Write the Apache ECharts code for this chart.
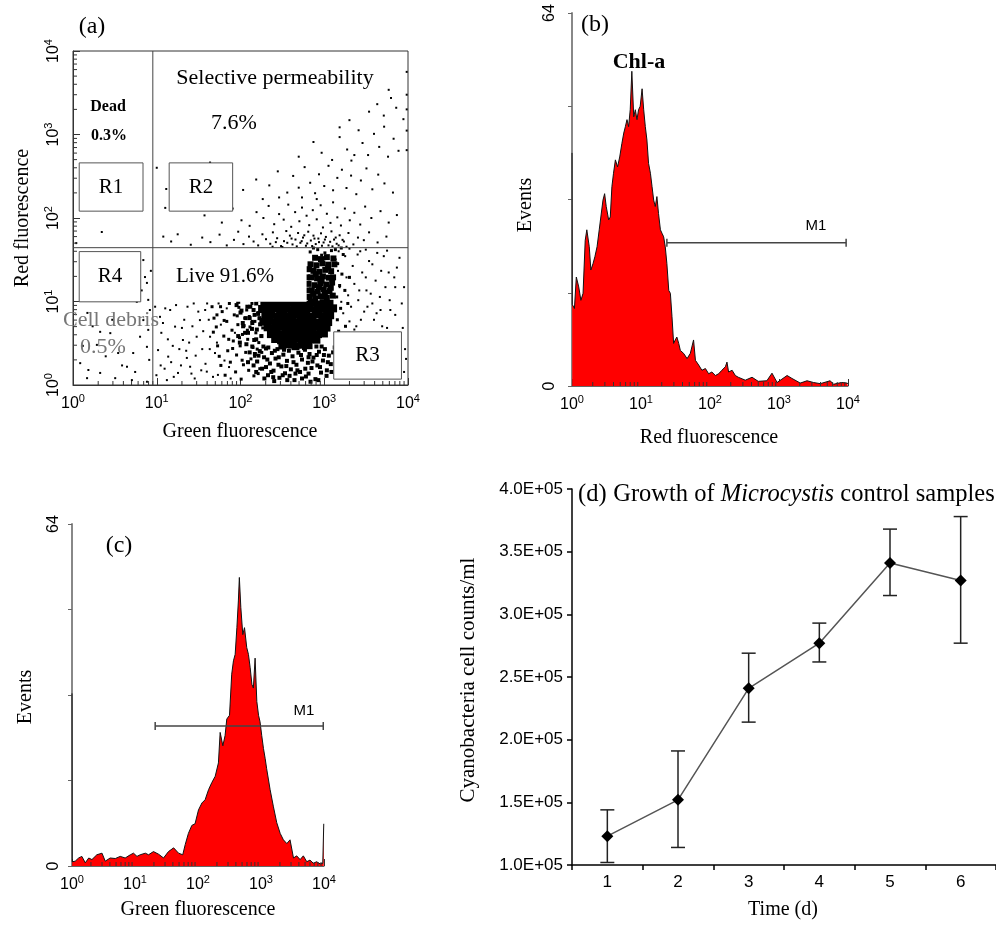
<!DOCTYPE html>
<html><head><meta charset="utf-8">
<script src="https://cdn.jsdelivr.net/npm/echarts@6/dist/echarts.min.js"></script>
<style>html,body{margin:0;padding:0;background:#fff}#c{width:996px;height:926px}</style>
</head><body><div id="c"></div>
<script>
// ---------- axis ticks (log-amplified channels, 256 channels per decade) ----------
const decadeTicks = [0, 256, 512, 768, 1024];
const decadeExp = ['0', '1', '2', '3', '4'];
const minorOffsets = [77, 122, 154, 179, 199, 216, 231, 244];
const eventTicks = [0, 64];

// ---------- panel (a): dot plot, green (x) vs red (y) fluorescence channels ----------
const aSparse = [
[360,430],[395,452],[420,438],[448,461],[470,428],[492,445],[505,470],[521,432],[538,455],[552,440],[566,428],[579,462],[590,447],[603,433],[611,468],[624,450],[636,426],[645,441],[652,472],[663,458],[671,431],[680,446],[688,466],[695,436],[703,452],[712,427],[719,470],[727,443],[735,458],[742,432],[750,449],[758,465],[766,437],[773,454],[781,428],[790,471],[798,446],[806,433],[815,459],[828,440],[842,466],[857,431],[871,452],[889,444],[905,468],[931,437],[958,455],[320,462],[300,440],[276,455],
[640,423],[655,436],[668,449],[684,425],[699,441],[707,459],[716,434],[731,426],[738,449],[752,438],[761,427],[770,446],[786,439],[793,425],[803,452],[812,428],[824,445],[836,424],[620,438],[610,424],
[402,520],[455,498],[488,541],[515,505],[540,488],[561,530],[582,512],[598,549],[615,493],[630,524],[644,507],[658,553],[667,485],[679,530],[692,502],[700,544],[714,519],[722,490],[733,536],[745,508],[757,551],[764,483],[776,525],[787,497],[795,560],[808,514],[819,489],[831,541],[846,505],[860,528],[878,492],[893,547],[912,512],[940,533],[965,498],[990,521],[630,575],
[520,598],[560,630],[600,612],[626,655],[655,590],[673,641],[690,605],[708,668],[725,620],[740,588],[752,646],[768,610],[781,672],[795,597],[808,635],[822,660],[836,604],[850,642],[866,585],[880,627],[897,664],[915,600],[933,645],[952,618],[978,590],[700,575],[745,570],[580,570],
[690,700],[735,745],[760,712],[792,690],[815,760],[838,722],[851,688],[873,781],[885,742],[902,705],[920,770],[936,730],[951,792],[963,700],[980,755],[995,718],[815,790],[860,705],
[845,812],[905,838],[930,861],[950,826],[972,880],[988,850],[1010,815],[965,905],
[1020,890],[1020,845],[1020,780],[1020,960],[1020,720],
[256,666],[285,601],[282,543],[419,682],[88,469],[10,435],
[215,383],[220,331],[226,313],[195,255],[230,261],[215,199],[230,169],[205,148],[226,117],[233,77],[184,98],[165,56],[129,21],[83,37],[47,46],[22,67],[73,123],[114,159],[44,221],[83,163],[138,98],[180,15],[226,10],[43,21],[150,60],[100,88],[60,180],[235,230],[238,350],[210,290],[190,40],[120,200],[30,120],
[251,240],[266,209],[297,230],[312,179],[336,138],[260,107],[291,87],[348,83],[388,199],[404,230],[378,148],[358,56],[321,37],[287,15],[419,148],[434,98],[409,41],[443,31],[270,160],[305,120],[330,60],[365,180],[395,110],[410,250],[280,50],[350,240],[372,20],[255,30],
[275,190],[290,140],[300,70],[315,245],[325,110],[340,200],[355,130],[362,35],[375,90],[383,225],[398,165],[405,65],[415,200],[428,25],[440,130],[452,185],[463,75],[470,235],[482,20],[495,160],[268,60],[282,235],[308,25],[333,175],[346,105],[369,250],[392,45],[418,110],[445,250],[477,55],
[803,385],[810,350],[815,300],[820,255],[826,220],[832,395],[836,330],[841,275],[845,195],[850,240],[855,365],[860,310],[866,180],[872,260],[878,410],[884,345],[890,225],[897,290],[905,380],[915,250],[925,320],[938,270],[950,395],[965,345],[985,300],[812,410],[845,418],[870,400],[895,415],[930,405],[960,412],[1005,250],[990,360],[920,200],[945,180],[970,230],
[860,170],[880,200],[895,330],[910,280],[928,220],[942,350],[955,300],[968,260],[982,330],[998,390],[1008,175],[1012,300],[875,290],[900,240],[915,370],[940,230],[960,175],[985,215],[1012,40],[1015,110],[1018,80]
];
const aMedium = [
[425,240],[431,205],[438,178],[442,120],[447,88],[452,60],[456,225],[461,150],[465,30],[470,195],[473,105],[478,250],[481,70],[486,168],[490,135],[493,215],[497,40],[500,92],[504,185],[507,238],[511,120],[514,18],[518,155],[521,62],[525,205],[528,100],[531,230],[534,140],[537,45],[541,178],[544,80],[547,250],[550,115],[553,28],[556,195],[559,160],[562,72],[565,222],[568,130],[571,50],[574,240],[577,100],[580,175],[440,215],[462,198],[488,112],[509,145],[523,182],[539,210],[555,88],[566,35],[575,150],[429,162],[451,240],[476,140],[502,212],[517,76],[533,168],[548,195],[563,110],
[805,130],[812,165],[808,200],[818,235],[806,270],[815,305],[822,340],[809,372],[826,400],[833,180],[840,250],[831,290],[845,330],[802,415],[820,420],[838,130],
[725,408],[748,415],[770,405],[790,412],[735,420],[760,398]
];
const aLower = [
[548,118],[556,95],[563,72],[571,104],[578,50],[584,85],[590,112],[596,30],[602,66],[608,98],[613,44],[619,81],[625,110],[631,22],[637,57],[643,93],[648,36],[654,74],[660,105],[666,48],[671,88],[677,15],[683,62],[689,99],[694,40],[700,78],[706,113],[712,26],[718,68],[723,95],[729,52],[735,84],[741,18],[747,60],[752,102],[758,38],[764,75],[770,110],[776,45],[782,90],[788,64],[795,100],[560,40],[585,20],[615,12],[645,108],[680,35],[710,50],[745,92],[775,28],[597,115],[628,62],[662,28],[693,118],[726,10],[760,118],
[552,60],[567,90],[582,118],[594,78],[606,40],[617,105],[629,85],[641,30],[652,58],[663,118],[674,70],[686,45],[697,92],[709,108],[720,35],[732,72],[744,118],[755,55],[767,92],[779,70],[790,40],[800,115],[540,100],[535,70],[612,24],[700,20],[750,15],[655,15],[590,55],[720,85],
[505,255],[512,222],[519,190],[526,160],[533,240],[540,205],[547,172],[554,138],[560,250],[566,218],[572,186],[576,150],[510,130],[530,125],[552,230],[568,262],
[500,245],[515,228],[528,205],[542,240],[555,215],[520,180],[535,160],[548,190],[562,170],[505,150],[570,205],[560,140]
];
const aColumn = [
[722,270],[740,266],[758,272],[776,268],[794,274],[730,290],[748,286],[766,293],[784,288],[720,310],[738,306],[756,312],[774,308],[792,314],[728,330],[746,327],[764,333],[782,329],[735,350],[753,347],[771,353],[789,349],[726,370],[744,367],[762,373],[780,369],[740,390],[758,386],[776,392],[796,388],
[718,290],[734,280],[752,300],[770,282],[788,298],[715,330],[760,320],[795,330],[742,340],[780,360],[799,370],[722,355]
];
const aCore = [
[585,250],[603,247],[621,251],[640,246],[658,252],[676,248],[694,250],[712,246],[730,252],[748,247],[766,251],[784,249],
[578,233],[596,229],[614,235],[633,230],[651,234],[669,228],[687,233],[705,231],[723,236],[741,229],[759,234],[777,230],[795,235],
[588,212],[606,216],[624,210],[642,215],[660,211],[678,217],[696,212],[714,214],[732,209],[750,216],[768,211],[786,214],
[582,194],[600,197],[618,192],[636,198],[654,193],[672,196],[690,191],[708,197],[726,194],[744,190],[762,196],[780,193],
[595,177],[613,173],[631,179],[649,174],[667,178],[685,172],[703,177],[721,175],[739,179],[757,173],[775,176],
[605,156],[623,160],[641,155],[659,161],[677,157],[695,159],[713,154],[731,160],[749,156],[767,158],
[618,141],[636,137],[654,143],[672,138],[690,142],[708,136],[726,141],[744,139],
[640,121],[660,125],[680,119],[700,124],[720,122]
];
// gate regions of panel (a), in channels
const regionNames = ['R1', 'R2', 'R3', 'R4'];
const regionX = [[19, 214], [294, 488], [797, 1004], [19, 207]];
const regionY = [[533, 681], [533, 681], [18, 163], [255, 409]];
const liveX = [251, 714];
const liveY = [255, 420];
const quadX = 244;
const quadY = 421;

// ---------- panel (b): red fluorescence histogram ----------
const bChannel = [0,1,9,16,25,33,41,49,55,64,70,78,85,93,101,107,115,121,127,136,142,148,154,161,169,177,185,192,198,204,210,216,222,229,235,241,247,253,260,266,272,278,284,291,297,303,309,315,321,328,334,340,346,352,359,365,371,377,383,389,396,402,414,427,439,451,458,470,482,495,507,519,532,544,556,569,575,581,594,606,617,643,668,691,723,742,761,798,816,847,872,896,921,958,970,1000,1020,1024];
const bEvents  = [40,14,13.3,18.7,17,14.7,15.9,25,26.8,23.9,19.9,21,22.2,23.9,26.8,29,31.9,33,30.8,28.5,29,34.2,36.5,38.8,37.6,39.3,41.6,43.4,44.5,45.7,44.5,47.4,54,46.2,47.4,45.7,47.4,48,51,47.4,44.5,42.2,38.2,36.5,34.2,31.9,30.8,32.5,29.6,26.8,26.2,25.6,23.9,21,16.4,15.9,11.9,7.3,7.9,8.4,7.3,6.1,5.6,4.7,5.6,7.9,4.4,3.6,2.7,3.0,2.1,2.4,1.8,2.1,2.7,3.3,4.1,2.4,2.7,1.8,1.5,1.0,1.5,0.8,0.9,2.2,0.6,1.8,1.3,0.5,0.9,0.6,0.4,0.9,0.3,0.6,0.5,0.4];
const bGate = [352, 1017, 24.6];

// ---------- panel (c): green fluorescence histogram ----------
const cChannel = [0,1,13,27,40,54,68,81,101,122,135,155,176,196,216,237,250,264,277,298,311,331,352,372,392,413,433,450,460,473,487,500,514,528,541,555,568,582,595,602,613,622,629,640,649,656,663,670,676,680,686,694,701,710,717,724,731,737,744,751,758,764,771,778,785,791,805,818,832,846,859,873,886,900,913,927,940,954,967,981,994,1008,1019,1023];
const cEvents  = [32.3,0.8,0.9,1.5,1.8,0.6,1.5,1.2,2.1,2.4,0.9,1.5,1.4,1.8,1.5,2.1,2.4,1.8,2.1,2.4,2.1,2.7,2.2,1.5,2.7,3.4,2.4,2.1,4.0,6.1,7.6,7.9,10.5,11.8,12.4,14.3,15.6,16.8,19.3,25,22.5,24.4,27.5,28.2,35.9,38.4,39.6,44.6,49.6,54,48.4,43.3,44.6,40.9,39.6,37.1,34,33.3,38.9,30.8,28.2,27,24.4,22,20.1,18.2,14.3,11.2,8.1,6.1,4.9,4.2,4.9,1.5,1.9,1.2,1.9,0.8,1.1,0.5,0.8,0.4,0.5,7.9];
const cGate = [338, 1021, 26.2];

// ---------- panel (d): growth of Microcystis control samples ----------
const days = ['1', '2', '3', '4', '5', '6'];
const dMean = [1.23e5, 1.52e5, 2.41e5, 2.77e5, 3.41e5, 3.27e5];
const dLow  = [1.02e5, 1.14e5, 2.14e5, 2.62e5, 3.15e5, 2.77e5];
const dHigh = [1.44e5, 1.91e5, 2.69e5, 2.93e5, 3.68e5, 3.78e5];

// ---------- build ----------
const SERIF = '"Liberation Serif", "Times New Roman", serif';
const SANS = '"Liberation Sans", Arial, sans-serif';
const minorCh = [];
for (let d = 0; d < 4; d++) minorOffsets.forEach(o => minorCh.push(decadeTicks[d] + o));

const zip = (a, b) => a.map((v, i) => [v, b[i]]);
const powRich = {
  b: { fontFamily: SANS, fontSize: 16, color: '#000', lineHeight: 22 },
  s: { fontFamily: SANS, fontSize: 11, color: '#000', lineHeight: 22, verticalAlign: 'top' }
};
const powFmt = v => { const i = decadeTicks.indexOf(v); return i < 0 ? '' : '{b|10}{s|' + decadeExp[i] + '}'; };

function logAxis(grid, opts) {
  return Object.assign({
    type: 'value', gridIndex: grid, min: 0, max: 1024, interval: 256,
    axisLine: { show: true, lineStyle: { color: '#333', width: 1 } },
    axisTick: { show: true, inside: true, length: 7, lineStyle: { color: '#333' } },
    axisLabel: { formatter: powFmt, rich: powRich, margin: 8 },
    splitLine: { show: false }
  }, opts || {});
}
function eventsAxis(grid, margin) {
  return {
    type: 'value', gridIndex: grid, min: 0, max: 64, interval: 16,
    axisLine: { show: true, lineStyle: { color: '#888', width: 2 } },
    axisTick: { show: true, inside: false, length: 4, lineStyle: { color: '#666' } },
    axisLabel: { rotate: 90, margin: margin, fontFamily: SANS, fontSize: 16, color: '#000',
      formatter: v => eventTicks.indexOf(v) >= 0 ? String(v) : '' },
    splitLine: { show: false }
  };
}
function minorX(xi, yi, len) {
  return { type: 'custom', xAxisIndex: xi, yAxisIndex: yi, z: 5, silent: true,
    data: minorCh.map(v => [v, 0]),
    renderItem: (p, api) => { const c = api.coord([api.value(0), 0]);
      return { type: 'line', shape: { x1: c[0], y1: c[1], x2: c[0], y2: c[1] - len }, style: { stroke: '#333', lineWidth: 1 } }; } };
}
function minorY(xi, yi, len) {
  return { type: 'custom', xAxisIndex: xi, yAxisIndex: yi, z: 5, silent: true,
    data: minorCh.map(v => [0, v]),
    renderItem: (p, api) => { const c = api.coord([0, api.value(1)]);
      return { type: 'line', shape: { x1: c[0], y1: c[1], x2: c[0] + len, y2: c[1] }, style: { stroke: '#333', lineWidth: 1 } }; } };
}
function gateSeries(xi, yi, gate) {
  return { type: 'custom', xAxisIndex: xi, yAxisIndex: yi, z: 6, silent: true,
    data: [gate],
    renderItem: (p, api) => {
      const a = api.coord([api.value(0), api.value(2)]);
      const b = api.coord([api.value(1), api.value(2)]);
      const st = { stroke: '#444', lineWidth: 1.5 };
      return { type: 'group', children: [
        { type: 'line', shape: { x1: a[0], y1: a[1], x2: b[0], y2: b[1] }, style: st },
        { type: 'line', shape: { x1: a[0], y1: a[1] - 4, x2: a[0], y2: a[1] + 4 }, style: st },
        { type: 'line', shape: { x1: b[0], y1: b[1] - 4, x2: b[0], y2: b[1] + 4 }, style: st }
      ] };
    } };
}
function histSeries(xi, yi, ch, ev) {
  return { type: 'line', xAxisIndex: xi, yAxisIndex: yi, z: 3, data: zip(ch, ev), symbol: 'none',
    lineStyle: { color: '#111', width: 1 }, areaStyle: { color: '#ff0000', opacity: 1 } };
}
function dots(data, size, shape) {
  return { type: 'scatter', xAxisIndex: 0, yAxisIndex: 0, z: 2, data: data, symbol: shape || 'rect',
    symbolSize: size, itemStyle: { color: '#000', opacity: 1 }, silent: true };
}

const txt = (x, y, text, font, extra) => Object.assign({ type: 'text', x: x, y: y, z: 100,
  style: Object.assign({ text: text, font: font, fill: '#000', align: 'center', verticalAlign: 'middle' }, (extra && extra.style) || {}) },
  extra && extra.rotation ? { rotation: extra.rotation } : {});

const option = {
  animation: false,
  backgroundColor: '#fff',
  grid: [
    { left: 73, top: 51, width: 335, height: 334, show: true, borderColor: '#333', borderWidth: 1, containLabel: false },
    { left: 572, top: 13, width: 276, height: 373, containLabel: false },
    { left: 72, top: 524, width: 252, height: 342, containLabel: false },
    { left: 572, top: 489, width: 430, height: 376, containLabel: false }
  ],
  xAxis: [
    logAxis(0),
    logAxis(1, { axisLine: { show: true, lineStyle: { color: '#666', width: 1 } } }),
    logAxis(2, { axisLine: { show: true, lineStyle: { color: '#666', width: 1 } } }),
    { type: 'category', gridIndex: 3, data: days, boundaryGap: true,
      axisLine: { show: true, lineStyle: { color: '#000', width: 1.5 } },
      axisTick: { show: true, alignWithLabel: false, length: 5, lineStyle: { color: '#000', width: 1.5 } },
      axisLabel: { fontFamily: SANS, fontSize: 17, color: '#000', margin: 9 } }
  ],
  yAxis: [
    logAxis(0, { axisLabel: { formatter: powFmt, rich: powRich, margin: 8, rotate: 90 } }),
    eventsAxis(1, 14),
    eventsAxis(2, 10),
    { type: 'value', gridIndex: 3, min: 1e5, max: 4e5, interval: 5e4,
      axisLine: { show: true, lineStyle: { color: '#000', width: 1.5 } },
      axisTick: { show: true, length: 5, lineStyle: { color: '#000', width: 1.5 } },
      splitLine: { show: false },
      axisLabel: { fontFamily: SANS, fontSize: 17, color: '#000', margin: 9,
        formatter: v => (v / 1e5).toFixed(1) + 'E+05' } }
  ],
  series: [
    dots(aSparse, 2),
    dots(aMedium, 3),
    dots(aLower, 4),
    dots(aColumn, 6),
    dots(aCore, 8),
    { type: 'custom', xAxisIndex: 0, yAxisIndex: 0, z: 8, silent: true,
      data: regionNames.map((n, i) => [regionX[i][0], regionX[i][1], regionY[i][0], regionY[i][1], i]),
      renderItem: (p, api) => {
        const tl = api.coord([api.value(0), api.value(3)]);
        const br = api.coord([api.value(1), api.value(2)]);
        return { type: 'group', children: [
          { type: 'rect', shape: { x: tl[0], y: tl[1], width: br[0] - tl[0], height: br[1] - tl[1] },
            style: { fill: '#fff', stroke: '#555', lineWidth: 1 } },
          { type: 'text', style: { text: regionNames[api.value(4)], x: (tl[0] + br[0]) / 2, y: (tl[1] + br[1]) / 2,
            font: '21px ' + SERIF, fill: '#000', align: 'center', verticalAlign: 'middle' } }
        ] };
      } },
    { type: 'custom', xAxisIndex: 0, yAxisIndex: 0, z: 7, silent: true,
      data: [[liveX[0], liveX[1], liveY[0], liveY[1]]],
      renderItem: (p, api) => {
        const tl = api.coord([api.value(0), api.value(3)]);
        const br = api.coord([api.value(1), api.value(2)]);
        return { type: 'rect', shape: { x: tl[0], y: tl[1], width: br[0] - tl[0], height: br[1] - tl[1] }, style: { fill: '#fff' } };
      } },
    { type: 'custom', xAxisIndex: 0, yAxisIndex: 0, z: 9, silent: true,
      data: [[quadX, quadY]],
      renderItem: (p, api) => {
        const v0 = api.coord([api.value(0), 0]), v1 = api.coord([api.value(0), 1024]);
        const h0 = api.coord([0, api.value(1)]), h1 = api.coord([1024, api.value(1)]);
        const st = { stroke: '#444', lineWidth: 1 };
        return { type: 'group', children: [
          { type: 'line', shape: { x1: v0[0], y1: v0[1], x2: v1[0], y2: v1[1] }, style: st },
          { type: 'line', shape: { x1: h0[0], y1: h0[1], x2: h1[0], y2: h1[1] }, style: st }
        ] };
      } },
    minorX(0, 0, 4), minorY(0, 0, 4),
    histSeries(1, 1, bChannel, bEvents), minorX(1, 1, 4), gateSeries(1, 1, bGate),
    histSeries(2, 2, cChannel, cEvents), minorX(2, 2, 4), gateSeries(2, 2, cGate),
    { type: 'custom', xAxisIndex: 3, yAxisIndex: 3, z: 3, silent: true,
      data: days.map((d, i) => [i, dLow[i], dHigh[i]]),
      renderItem: (p, api) => {
        const lo = api.coord([api.value(0), api.value(1)]);
        const hi = api.coord([api.value(0), api.value(2)]);
        const st = { stroke: '#222', lineWidth: 1.5 };
        return { type: 'group', children: [
          { type: 'line', shape: { x1: lo[0], y1: lo[1], x2: hi[0], y2: hi[1] }, style: st },
          { type: 'line', shape: { x1: lo[0] - 7, y1: lo[1], x2: lo[0] + 7, y2: lo[1] }, style: st },
          { type: 'line', shape: { x1: hi[0] - 7, y1: hi[1], x2: hi[0] + 7, y2: hi[1] }, style: st }
        ] };
      } },
    { type: 'line', xAxisIndex: 3, yAxisIndex: 3, z: 4, data: dMean, symbol: 'diamond', symbolSize: 12,
      itemStyle: { color: '#000' }, lineStyle: { color: '#555', width: 1.5 } }
  ],
  graphic: [
    txt(92, 27, '(a)', '24px ' + SERIF),
    txt(275, 78, 'Selective permeability', '22px ' + SERIF),
    txt(234, 123, '7.6%', '22px ' + SERIF),
    txt(108, 107, 'Dead', 'bold 16px ' + SERIF),
    txt(109, 136, '0.3%', 'bold 16px ' + SERIF),
    txt(225, 276, 'Live 91.6%', '21px ' + SERIF),
    txt(111, 320, 'Cell debris', '22px ' + SERIF, { style: { fill: '#777' } }),
    txt(103, 347, '0.5%', '22px ' + SERIF, { style: { fill: '#777' } }),
    txt(23, 218, 'Red fluorescence', '20px ' + SERIF, { rotation: Math.PI / 2 }),
    txt(240, 432, 'Green fluorescence', '20px ' + SERIF),
    txt(595, 25, '(b)', '24px ' + SERIF),
    txt(639, 62, 'Chl-a', 'bold 22px ' + SERIF),
    txt(526, 205, 'Events', '20px ' + SERIF, { rotation: Math.PI / 2 }),
    txt(709, 438, 'Red fluorescence', '20px ' + SERIF),
    txt(816, 226, 'M1', '15px ' + SANS),
    txt(119, 546, '(c)', '24px ' + SERIF),
    txt(26, 697, 'Events', '20px ' + SERIF, { rotation: Math.PI / 2 }),
    txt(198, 910, 'Green fluorescence', '20px ' + SERIF),
    txt(304, 711, 'M1', '15px ' + SANS),
    { type: 'text', x: 578, y: 495, z: 100, style: {
      text: '{n|(d)}  {n|Growth of }{i|Microcystis}{n| control samples}',
      align: 'left', verticalAlign: 'middle',
      rich: { n: { fontFamily: SERIF, fontSize: 24.5, fill: '#000' }, i: { fontFamily: SERIF, fontSize: 24.5, fontStyle: 'italic', fill: '#000' } } } },
    txt(468, 680, 'Cyanobacteria cell counts/ml', '21px ' + SERIF, { rotation: Math.PI / 2 }),
    txt(783, 910, 'Time (d)', '20px ' + SERIF)
  ]
};
const chart = echarts.init(document.getElementById('c'), null, { renderer: 'canvas' });
chart.setOption(option);
</script></body></html>
